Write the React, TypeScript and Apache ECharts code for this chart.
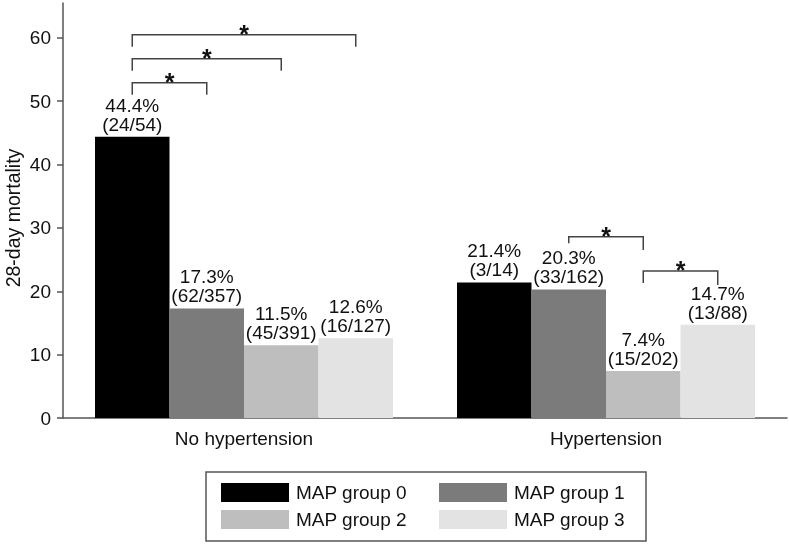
import React, { useEffect, useRef } from "react";
import * as echarts from "echarts";

const categories = ["No hypertension", "Hypertension"];
const seriesNames = ["MAP group 0", "MAP group 1", "MAP group 2", "MAP group 3"];
const group0 = [44.4, 21.4];
const group1 = [17.3, 20.3];
const group2 = [11.5, 7.4];
const group3 = [12.6, 14.7];
const counts0 = ["24/54", "3/14"];
const counts1 = ["62/357", "33/162"];
const counts2 = ["45/391", "15/202"];
const counts3 = ["16/127", "13/88"];
const yTicks = [0, 10, 20, 30, 40, 50, 60];
const yTitle = "28-day mortality";

// significance brackets (category, bar from, bar to, level, left end, right end) in data units
const bracketCategory = [0, 0, 0, 1, 1];
const bracketFrom = [0, 0, 0, 1, 2];
const bracketTo = [1, 2, 3, 2, 3];
const bracketLevel = [52.9, 56.7, 60.5, 28.6, 23.2];
const bracketLeftEnd = [51.0, 54.8, 58.6, 27.6, 21.3];
const bracketRightEnd = [51.0, 54.8, 58.6, 26.5, 21.0];
const bracketMark = ["*", "*", "*", "*", "*"];

const colors = ["#000000", "#7b7b7b", "#bebebe", "#e3e3e3"];
const FONT = "'Liberation Sans', Arial, Helvetica, sans-serif";
const BAR_W = 74.5;
// legend item slots (column, row)
const legendCol = [0, 1, 0, 1];
const legendRow = [0, 0, 1, 1];

export default function App() {
  const ref = useRef<HTMLDivElement>(null);
  useEffect(() => {
    if (!ref.current) return;
    const chart = echarts.init(ref.current, undefined, { renderer: "svg" });
    const values = [group0, group1, group2, group3];
    const counts = [counts0, counts1, counts2, counts3];
    const option: any = {
      animation: false,
      textStyle: { fontFamily: FONT },
      grid: { left: 63, right: 2, top: 3, bottom: 126, outerBoundsMode: "none", containLabel: false },
      legend: seriesNames.map((name, i) => ({
        left: 221 + legendCol[i] * 218,
        top: 483 + legendRow[i] * 27,
        itemWidth: 68,
        itemHeight: 19,
        icon: "rect",
        padding: 0,
        data: [name],
        textStyle: { fontSize: 19, color: "#111", fontFamily: FONT, padding: [0, 0, 0, 2] },
      })),
      xAxis: {
        type: "category",
        data: categories,
        axisTick: { show: false },
        axisLine: { lineStyle: { color: "#555", width: 1.5 } },
        axisLabel: { fontSize: 19, color: "#111", margin: 11, fontFamily: FONT },
      },
      yAxis: {
        type: "value",
        min: 0,
        max: 65.5,
        interval: 10,
        splitLine: { show: false },
        axisLine: { show: true, lineStyle: { color: "#555", width: 1.5 } },
        axisTick: { show: true, length: 6, lineStyle: { color: "#555", width: 1.5 }, customValues: yTicks },
        axisLabel: { fontSize: 19, color: "#111", margin: 12, fontFamily: FONT, customValues: yTicks },
      },
      series: seriesNames.map((name, si) => ({
        name,
        type: "bar",
        data: values[si],
        barWidth: BAR_W,
        barGap: "0%",
        itemStyle: { color: colors[si] },
        label: {
          show: true,
          position: "top",
          distance: 3,
          fontSize: 19,
          lineHeight: 19,
          color: "#111",
          fontFamily: FONT,
          formatter: (p: any) => `${Number(p.value).toFixed(1)}%\n(${counts[si][p.dataIndex]})`,
        },
      })),
    };
    chart.setOption(option);

    const graphics: any[] = [];
    for (let i = 0; i < bracketCategory.length; i++) {
      const cx = chart.convertToPixel({ xAxisIndex: 0 }, bracketCategory[i]) as number;
      const x1 = cx + (bracketFrom[i] - 1.5) * BAR_W;
      const x2 = cx + (bracketTo[i] - 1.5) * BAR_W;
      const yTop = chart.convertToPixel({ yAxisIndex: 0 }, bracketLevel[i]) as number;
      const yL = chart.convertToPixel({ yAxisIndex: 0 }, bracketLeftEnd[i]) as number;
      const yR = chart.convertToPixel({ yAxisIndex: 0 }, bracketRightEnd[i]) as number;
      graphics.push({
        type: "polyline",
        shape: { points: [[x1, yL], [x1, yTop], [x2, yTop], [x2, yR]] },
        style: { stroke: "#444", lineWidth: 1.5, fill: null },
        silent: true,
      });
      graphics.push({
        type: "text",
        x: (x1 + x2) / 2,
        y: yTop - 1,
        style: {
          text: bracketMark[i],
          fontSize: 25,
          fontWeight: "bold",
          fontFamily: FONT,
          fill: "#111",
          align: "center",
          verticalAlign: "middle",
        },
        silent: true,
      });
    }
    graphics.push({
      type: "text",
      x: 13,
      y: 218,
      rotation: Math.PI / 2,
      style: {
        text: yTitle,
        fontSize: 19.5,
        fontFamily: FONT,
        fill: "#111",
        align: "center",
        verticalAlign: "middle",
      },
      silent: true,
    });
    graphics.push({
      type: "rect",
      shape: { x: 206, y: 472, width: 440, height: 69 },
      style: { stroke: "#555", lineWidth: 1.5, fill: null },
      silent: true,
    });
    chart.setOption({ graphic: graphics });

    return () => chart.dispose();
  }, []);
  return <div ref={ref} style={{ position: "fixed", left: 0, top: 0, width: 789, height: 544 }} />;
}
